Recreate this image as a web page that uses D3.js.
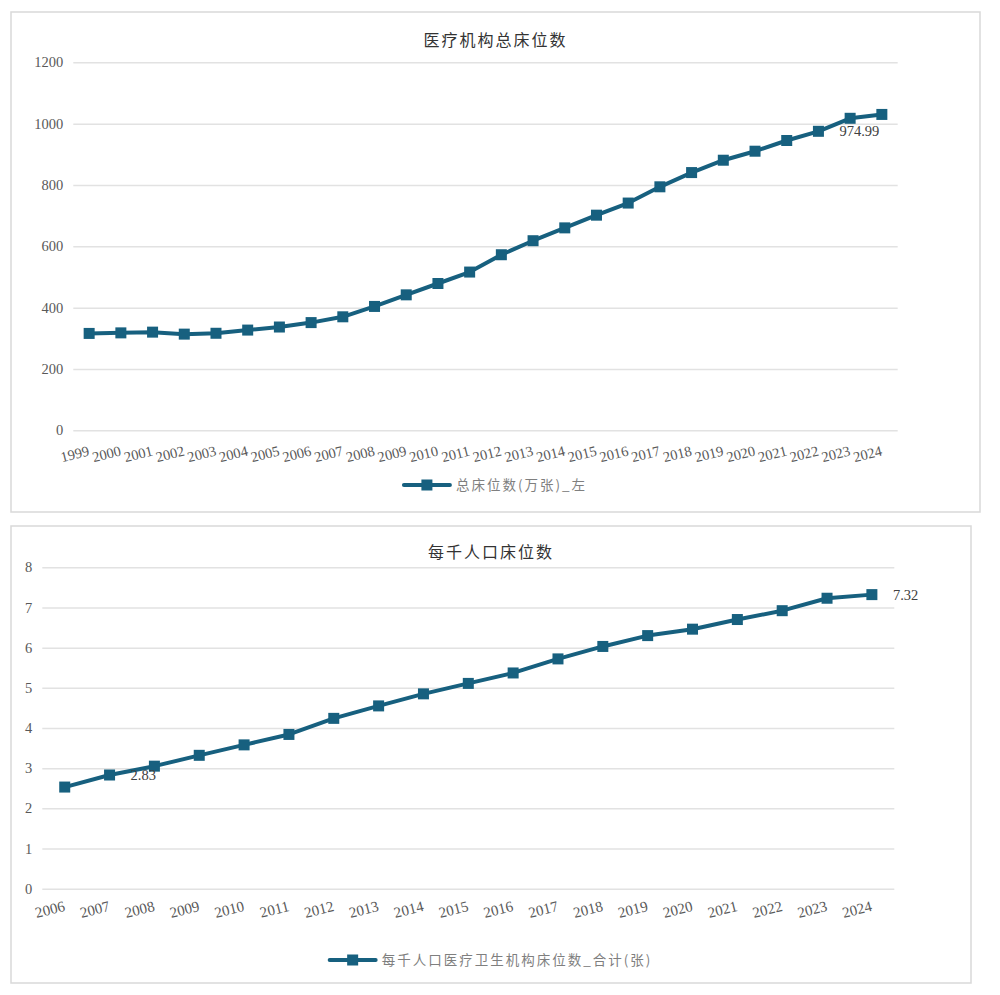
<!DOCTYPE html>
<html>
<head>
<meta charset="utf-8">
<script src="https://cdn.jsdelivr.net/npm/d3@7"></script>
<style>
  body { margin: 0; background: #fff; }
  svg { display: block; }
</style>
</head>
<body>
<div id="chart"></div>
<script>
// data for the upper chart: total beds (10k)
var yearsTotal = ["1999","2000","2001","2002","2003","2004","2005","2006","2007","2008","2009","2010","2011","2012","2013","2014","2015","2016","2017","2018","2019","2020","2021","2022","2023","2024"];
var bedsTotal = [315.9,317.7,320.1,313.6,316.4,326.8,336.8,351.2,370.1,403.9,441.7,478.7,516.0,572.5,618.2,660.1,701.5,741.0,794.0,840.4,880.7,910.1,945.0,974.99,1017.4,1030.0];
var ticksTotal = [0,200,400,600,800,1000,1200];

// data for the lower chart: beds per 1000 people
var yearsPer = ["2006","2007","2008","2009","2010","2011","2012","2013","2014","2015","2016","2017","2018","2019","2020","2021","2022","2023","2024"];
var bedsPer = [2.53,2.83,3.05,3.32,3.58,3.84,4.24,4.55,4.85,5.11,5.37,5.72,6.03,6.30,6.46,6.70,6.92,7.23,7.32];
var ticksPer = [0,1,2,3,4,5,6,7,8];

var lineColor = "#17607f";
var serif = "'Liberation Serif','DejaVu Serif',serif";
var cjk = "'Noto Sans CJK SC','Noto Sans',sans-serif";

var svg = d3.select("#chart")
    .append("svg")
    .attr("width", 1000)
    .attr("height", 995);

function drawPanel(cfg) {
    var g = svg.append("g");

    // panel frame
    g.append("rect")
        .attr("x", cfg.box[0]).attr("y", cfg.box[1])
        .attr("width", cfg.box[2]).attr("height", cfg.box[3])
        .style("fill", "#fff")
        .style("stroke", "#d9d9d9")
        .style("stroke-width", 1.5);

    var cx = cfg.box[0] + cfg.box[2] / 2;

    var x = d3.scaleBand()
        .domain(cfg.cats)
        .range([cfg.left, cfg.right]);

    var y = d3.scaleLinear()
        .domain([0, cfg.ticks[cfg.ticks.length - 1]])
        .range([cfg.bottom, cfg.top]);

    // gridlines + y labels
    var ya = g.append("g")
        .attr("transform", "translate(" + cfg.left + ",0)")
        .call(d3.axisLeft(y).tickValues(cfg.ticks).tickFormat(d3.format("d"))
            .tickSize(-(cfg.right - cfg.left)).tickPadding(10));
    ya.select(".domain").remove();
    ya.selectAll(".tick line").style("stroke", "#e2e2e2").style("stroke-width", 1.5);
    ya.selectAll(".tick text")
        .style("font-family", serif)
        .style("font-size", cfg.fs + "px")
        .style("fill", "#595959");

    // x labels, tilted (axis already puts ticks at band centres)
    var xa = g.append("g")
        .attr("transform", "translate(0," + cfg.bottom + ")")
        .call(d3.axisBottom(x).tickSize(0).tickPadding(0));
    xa.select(".domain").remove();
    xa.selectAll(".tick text")
        .attr("dy", null)
        .attr("y", 0)
        .attr("text-anchor", "end")
        .attr("transform", "translate(1," + cfg.xlabDy + ") rotate(-14)")
        .style("font-family", serif)
        .style("font-size", cfg.xfs + "px")
        .style("fill", "#595959");

    var px = function(d, i) { return x(cfg.cats[i]) + x.bandwidth() / 2; };

    g.append("path")
        .datum(cfg.vals)
        .attr("d", d3.line().x(px).y(function(d) { return y(d); }))
        .style("fill", "none")
        .style("stroke", lineColor)
        .style("stroke-width", 4)
        .style("stroke-linejoin", "round");

    var ms = 11;
    g.selectAll(".pt")
        .data(cfg.vals)
        .enter().append("rect")
        .attr("x", function(d, i) { return px(d, i) - ms / 2; })
        .attr("y", function(d) { return y(d) - ms / 2; })
        .attr("width", ms).attr("height", ms)
        .style("fill", lineColor);

    // data labels
    cfg.labels.forEach(function(i) {
        g.append("text")
            .attr("x", px(cfg.vals[i], i) + 21)
            .attr("y", y(cfg.vals[i]))
            .attr("dy", "0.35em")
            .style("font-family", serif)
            .style("font-size", cfg.fs + "px")
            .style("fill", "#404040")
            .text(cfg.vals[i].toFixed(2));
    });

    // title
    g.append("text")
        .attr("x", cx)
        .attr("y", cfg.titleY)
        .attr("text-anchor", "middle")
        .style("font-family", cjk)
        .style("font-size", "16px")
        .style("letter-spacing", "2px")
        .style("fill", "#333")
        .text(cfg.title);

    // legend
    var lg = g.append("g");
    var lt = lg.append("text")
        .attr("x", 52)
        .attr("y", 0)
        .attr("dy", "0.35em")
        .style("font-family", cjk)
        .style("font-size", "13.5px")
        .style("letter-spacing", "2px")
        .style("fill", "#7f7f7f")
        .text(cfg.legend);
    lg.append("line")
        .attr("x1", 0).attr("x2", 46).attr("y1", 0).attr("y2", 0)
        .style("stroke", lineColor).style("stroke-width", 4).style("stroke-linecap", "round");
    lg.append("rect")
        .attr("x", 23 - ms / 2).attr("y", -ms / 2)
        .attr("width", ms).attr("height", ms)
        .style("fill", lineColor);
    var w = 52 + lt.node().getComputedTextLength();
    lg.attr("transform", "translate(" + (cx - w / 2) + "," + cfg.legendY + ")");
}

drawPanel({
    box: [11, 12, 969, 500],
    cats: yearsTotal, vals: bedsTotal, ticks: ticksTotal,
    left: 73.3, right: 897.7, top: 62.3, bottom: 430.3,
    fs: 14.5, xfs: 14.5, xlabDy: 25, labels: [23],
    title: "医疗机构总床位数", titleY: 46,
    legend: "总床位数(万张)_左", legendY: 485
});

drawPanel({
    box: [11, 526, 960, 457],
    cats: yearsPer, vals: bedsPer, ticks: ticksPer,
    left: 42.3, right: 894.3, top: 567.3, bottom: 888.7,
    fs: 14.5, xfs: 15, xlabDy: 22, labels: [1, 18],
    title: "每千人口床位数", titleY: 558,
    legend: "每千人口医疗卫生机构床位数_合计(张)", legendY: 960
});
</script>
</body>
</html>
